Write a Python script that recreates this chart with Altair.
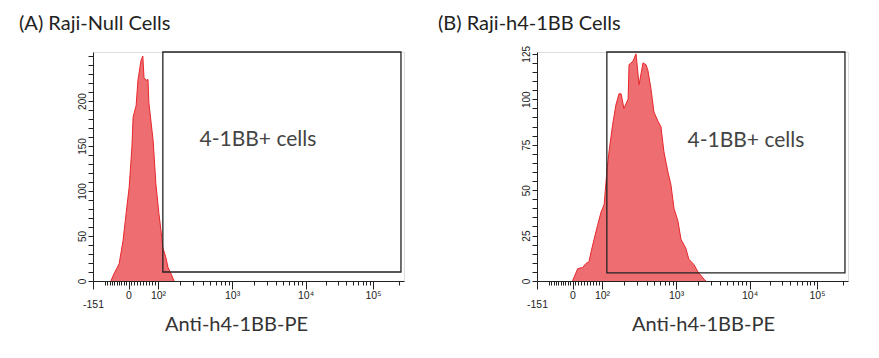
import math
import altair as alt
import pandas as pd

# ---------------- data (x in display channels 0..1024, y in cell counts) ----------------
a_ch = [59, 69, 86, 99, 109, 119, 128, 132, 142, 148, 158, 164, 168, 175, 181, 184,
        198, 207, 217, 224, 230, 240, 247, 257, 267]
a_ct = [0, 8, 19, 45, 75, 104, 148, 182, 195, 223, 245, 250, 226, 223, 224, 198,
        156, 108, 75, 56, 37, 26, 15, 8, 0]

b_ch = [117, 134, 150, 161, 171, 178, 188, 200, 211, 221, 230, 237, 249, 260, 270, 277,
        286, 300, 303, 316, 326, 336, 349, 359, 365, 375, 385, 398, 408, 418, 431, 441,
        451, 464, 474, 490, 500, 517, 530, 550, 556]
b_ct = [0, 6.8, 7.4, 9.6, 10.5, 16, 23, 31, 38, 42, 60, 71, 86, 97, 103, 103,
        95, 100, 119, 121, 125, 108, 120, 119, 116, 106, 93, 88, 85, 71, 60, 53,
        40, 33, 23, 18, 12, 9, 5, 1, 0]

titles = ["(A)  Raji-Null Cells", "(B)  Raji-h4-1BB Cells"]
x_title = "Anti-h4-1BB-PE"
gate_label = "4-1BB+ cells"

# axis: major tick channels and their labels
major_ch = [0, 117, 214, 458, 700, 922]
major_lbl = ["-151", "0", "10\u00b2", "10\u00b3", "10\u2074", "10\u2075"]
edge_tick = 1006
ch_max = 1024

# y-axis labels per panel
y_labels = [[0, 50, 100, 150, 200], [0, 25, 50, 75, 100, 125]]

# gates (channel low/high, count bottom)
gate_lo, gate_hi = 230, 1014
gate_bottom = [10, 4.5]
y_max = [254.5, 126]
y_minor = [10, 5]
text_pos = [(543, 157), (688, 77)]

# ---------------- tick positions ----------------
minor = []
for v in range(-100, 0, 10):
    minor.append(round(major_ch[1] * (v + 151) / 151, 2))
for v in range(10, 100, 10):
    minor.append(round(major_ch[1] + (major_ch[2] - major_ch[1]) * v / 100, 2))
for i in range(2, 5):
    s, e = major_ch[i], major_ch[i + 1]
    for k in range(2, 10):
        minor.append(round(s + math.log10(k) * (e - s), 2))
minor.append(edge_tick)
x_vals = sorted(set(major_ch + minor))

lbl_expr = ""
for c, l in zip(major_ch, major_lbl):
    lbl_expr += f"datum.value == {c} ? '{l}' : "
lbl_expr += "''"
major_test = " || ".join(f"datum.value == {c}" for c in major_ch)

FRAME = "#222222"
FILL = "#ee6d70"
LINE = "#e8262b"

def panel(i, chs, cts, dx, title_x, t_off):
    hist = pd.DataFrame({"ch": chs, "count": cts})
    ymax = y_max[i]
    yv = [round(v * y_minor[i], 2) for v in range(0, int(ymax // y_minor[i]) + 1)]
    y_test = " || ".join(f"datum.value == {v}" for v in y_labels[i])
    x_scale = alt.Scale(domain=[0, ch_max], nice=False, zero=False)
    y_scale = alt.Scale(domain=[0, ymax], nice=False, zero=True)
    x_axis = alt.Axis(
        values=x_vals, tickCount=500, labelExpr=lbl_expr, title=x_title, grid=False,
        labelFlush=False, labelOverlap=False,
        tickSize={"condition": {"test": major_test, "value": 8}, "value": 4},
        labelPadding={"condition": {"test": "datum.value == 0", "value": 10}, "value": 1},
        tickColor=FRAME, domainColor=FRAME, labelColor=FRAME,
        labelFont="Liberation Sans", labelFontSize=10.5,
        titleFont="Lato", titleFontSize=20, titleFontWeight="normal", titleColor="#333333",
        titleX=title_x, titleY=49, titleAlign="center", titleBaseline="alphabetic",
        titleAnchor="start",
    )
    y_axis = alt.Axis(
        values=yv, tickCount=500, title=None, grid=False, format="d",
        labelExpr=f"({y_test}) ? datum.label : ''",
        labelAngle=270, labelAlign="center", labelBaseline="bottom",
        labelFlush=False, labelOverlap=False, tickSize=5, labelPadding=1,
        tickColor=FRAME, domainColor=FRAME, labelColor=FRAME,
        labelFont="Liberation Sans", labelFontSize=10,
    )
    area = alt.Chart(hist).mark_area(
        color=FILL, opacity=1, clip=True,
        line={"color": LINE, "strokeWidth": 1},
    ).encode(
        x=alt.X("ch:Q", scale=x_scale, axis=x_axis),
        y=alt.Y("count:Q", scale=y_scale, axis=y_axis),
    )
    gate = alt.Chart(pd.DataFrame({
        "x": [gate_lo], "x2": [gate_hi], "y": [gate_bottom[i]], "y2": [ymax]
    })).mark_rect(filled=False, stroke=FRAME, strokeWidth=1.3).encode(
        x="x:Q", x2="x2:Q", y="y:Q", y2="y2:Q"
    )
    txt = alt.Chart(pd.DataFrame({
        "x": [text_pos[i][0]], "y": [text_pos[i][1]], "t": [gate_label]
    })).mark_text(font="Lato", fontSize=21, color="#444444").encode(
        x="x:Q", y="y:Q", text="t:N"
    )
    return alt.layer(area, gate, txt).properties(
        width=311, height=229,
        title=alt.TitleParams(
            titles[i], anchor="start", frame="group", dx=dx, offset=t_off,
            font="Lato", fontSize=20, fontWeight="normal", color="#222222",
        ),
    )

pa = panel(0, a_ch, a_ct, -74, 143, 17)
pb = panel(1, b_ch, b_ct, -99, 166, 11)

chart = alt.hconcat(pa, pb, spacing=133, bounds="flush").properties(
    padding={"left": 10, "top": 5, "right": 5, "bottom": 5}
).configure_view(stroke=FRAME, strokeWidth=1.2).configure(background="white")

chart.save("out.html", embed_options={"renderer": "svg", "actions": False})
